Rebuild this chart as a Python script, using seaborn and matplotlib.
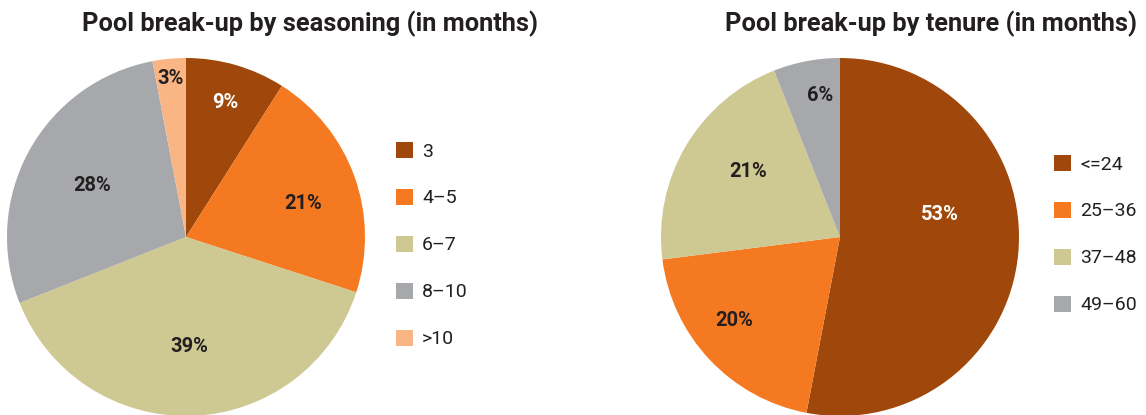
import numpy as np
import matplotlib
matplotlib.use("Agg")
import matplotlib.pyplot as plt
import seaborn as sns
from matplotlib.patches import Patch

# data
season_labels = ["3", "4\u20135", "6\u20137", "8\u201310", ">10"]
season_values = [9, 21, 39, 28, 3]
tenure_labels = ["<=24", "25\u201336", "37\u201348", "49\u201360"]
tenure_values = [53, 20, 21, 6]

palette = sns.color_palette(["#A0480B", "#F47920", "#CEC892", "#A7A8AC", "#FAB584"])
TEXT = "#231F20"

sns.set_theme(style="white")
plt.rcParams["font.family"] = ["Roboto", "DejaVu Sans"]

# label placement tweaks (radius fraction, angle offset in degrees, text colour)
season_lbl = [(0.78, 0, "white"), (0.68, -4, TEXT), (0.61, 0, TEXT), (0.60, 0, TEXT), (0.89, 0, TEXT)]
tenure_lbl = [(0.57, 18, "white"), (0.75, -5, TEXT), (0.63, -5, TEXT), (0.80, -3, TEXT)]


def draw_pie(ax, values, colors, lbl):
    wedges, _ = ax.pie(values, colors=colors, startangle=90, counterclock=False,
                       radius=1.0, wedgeprops=dict(linewidth=0))
    for w, v, (r, da, c) in zip(wedges, values, lbl):
        ang = np.deg2rad((w.theta1 + w.theta2) / 2 + da)
        ax.text(r * np.cos(ang), r * np.sin(ang), f"{v}%", ha="center", va="center",
                fontsize=14.5, fontweight="bold", color=c)
    ax.set_xlim(-1, 1)
    ax.set_ylim(-1, 1)
    ax.set_aspect("equal")
    ax.axis("off")


W, H = 1146, 415
fig = plt.figure(figsize=(W / 100, H / 100), dpi=100)

R = 179
ax1 = fig.add_axes([(186 - R) / W, (H - 237 - R) / H, 2 * R / W, 2 * R / H])
draw_pie(ax1, season_values, palette[:5], season_lbl)
ax2 = fig.add_axes([(840 - R) / W, (H - 237 - R) / H, 2 * R / W, 2 * R / H])
draw_pie(ax2, tenure_values, palette[:4], tenure_lbl)

fig.text(310 / W, 1 - 24 / H, "Pool break-up by seasoning (in months)", ha="center", va="center",
         fontsize=18.3, fontweight="bold", color=TEXT)
fig.text(931 / W, 1 - 24 / H, "Pool break-up by tenure (in months)", ha="center", va="center",
         fontsize=18.3, fontweight="bold", color=TEXT)

h1 = [Patch(facecolor=palette[i], edgecolor="none") for i in range(5)]
fig.legend(h1, season_labels, loc="upper left", bbox_to_anchor=(386 / W, 1 - 132 / H),
           frameon=False, fontsize=14, labelcolor=TEXT, handlelength=0.9, handleheight=0.9,
           handletextpad=0.45, labelspacing=1.45, borderpad=0)
h2 = [Patch(facecolor=palette[i], edgecolor="none") for i in range(4)]
fig.legend(h2, tenure_labels, loc="upper left", bbox_to_anchor=(1044 / W, 1 - 145 / H),
           frameon=False, fontsize=14, labelcolor=TEXT, handlelength=0.9, handleheight=0.9,
           handletextpad=0.45, labelspacing=1.45, borderpad=0)

fig.savefig("out.png", dpi=100)
